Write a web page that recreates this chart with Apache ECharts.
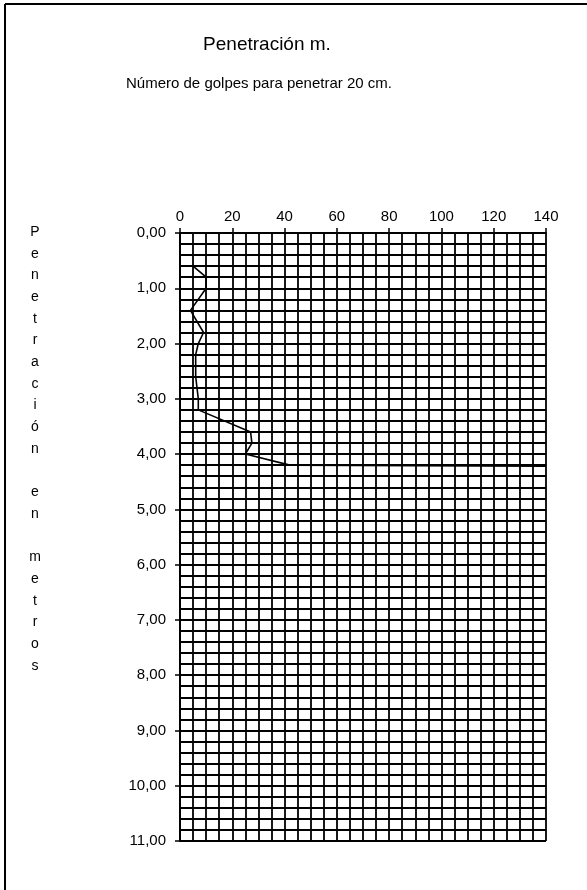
<!DOCTYPE html>
<html>
<head>
<meta charset="utf-8">
<script src="https://cdn.jsdelivr.net/npm/echarts@6/dist/echarts.min.js"></script>
<style>
  html, body { margin: 0; padding: 0; background: #fff; }
  #chart { width: 587px; height: 890px; }
</style>
</head>
<body>
<div id="chart"></div>
<script>
// Dynamic penetration test: blows per 20 cm against depth (m)
var depthM = [0.6, 0.8, 1.0, 1.4, 1.8, 2.0, 2.2, 2.4, 2.6, 2.8, 3.0, 3.2, 3.6, 3.8, 4.0, 4.2, 4.22];
var blows  = [5, 10, 10, 4, 9, 7, 6, 6, 6, 6.5, 7, 7, 27, 27.5, 25, 42, 140];

var blowsTicks = [0, 20, 40, 60, 80, 100, 120, 140];
var depthTicks = [0, 1, 2, 3, 4, 5, 6, 7, 8, 9, 10, 11];

var titleText = 'Penetración m.';
var subtitleText = 'Número de golpes para penetrar 20 cm.';
var depthAxisName = 'Penetración en metros';

var FONT = '"Liberation Sans", Arial, Helvetica, sans-serif';

var points = depthM.map(function (d, i) { return [blows[i], d]; });

// axis title written one character per line
var stackedName = depthAxisName.split('').join('\n');

var gridLine = { color: '#000', width: 1.8 };

var chart = echarts.init(document.getElementById('chart'), null, { renderer: 'canvas' });
chart.setOption({
  backgroundColor: '#fff',
  animation: false,
  title: [
    { text: titleText, left: 262, top: 30, textAlign: 'center',
      textStyle: { fontFamily: FONT, fontSize: 19, fontWeight: 'normal', color: '#000' } },
    { text: subtitleText, left: 254, top: 71, textAlign: 'center',
      textStyle: { fontFamily: FONT, fontSize: 15, fontWeight: 'normal', color: '#000' } }
  ],
  graphic: [
    { type: 'line', shape: { x1: 5, y1: 4, x2: 600, y2: 4 }, style: { stroke: '#000', lineWidth: 2 } },
    { type: 'line', shape: { x1: 5, y1: 4, x2: 5, y2: 900 }, style: { stroke: '#000', lineWidth: 2 } },
    { type: 'text', x: 35, y: 449,
      style: { text: stackedName, textAlign: 'center', textVerticalAlign: 'middle',
               font: '14px ' + FONT, lineHeight: 21.7, fill: '#000' } }
  ],
  grid: { left: 180, top: 233, right: 41, bottom: 49, containLabel: false },
  xAxis: {
    type: 'value', position: 'top',
    min: blowsTicks[0], max: blowsTicks[blowsTicks.length - 1], interval: 20,
    axisLine: { show: true, lineStyle: { color: '#000', width: 2 } },
    axisTick: { show: true, length: 5, lineStyle: { color: '#000', width: 1.5 } },
    axisLabel: { margin: 9, fontFamily: FONT, fontSize: 15, color: '#000' },
    splitLine: { show: true, lineStyle: gridLine },
    minorTick: { show: false, splitNumber: 4 },
    minorSplitLine: { show: true, lineStyle: gridLine }
  },
  yAxis: {
    type: 'value', inverse: true,
    min: depthTicks[0], max: depthTicks[depthTicks.length - 1], interval: 1,
    axisLine: { show: true, lineStyle: { color: '#000', width: 2 } },
    axisTick: { show: true, length: 5, lineStyle: { color: '#000', width: 1.5 } },
    axisLabel: {
      margin: 14, fontFamily: FONT, fontSize: 15, color: '#000',
      formatter: function (v) { return v.toFixed(2).replace('.', ','); }
    },
    splitLine: { show: true, lineStyle: gridLine },
    minorTick: { show: false, splitNumber: 5 },
    minorSplitLine: { show: true, lineStyle: gridLine }
  },
  series: [{
    type: 'line',
    data: points,
    showSymbol: false,
    clip: true,
    lineStyle: { color: '#000', width: 1.6 },
    z: 5
  }]
});
</script>
</body>
</html>
